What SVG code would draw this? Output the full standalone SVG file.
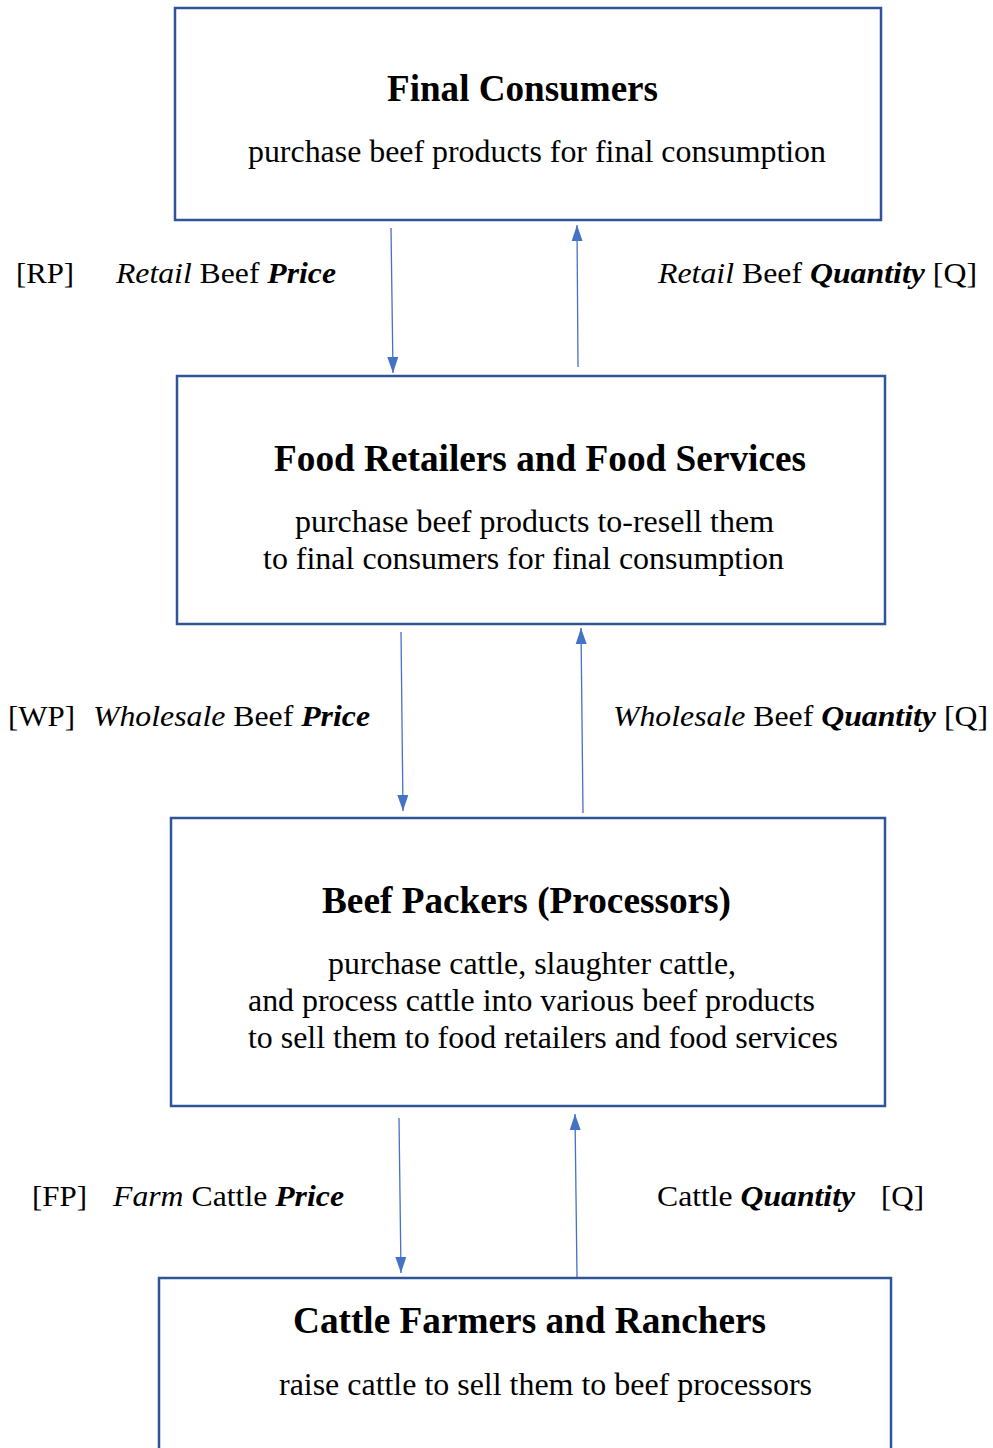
<svg xmlns="http://www.w3.org/2000/svg" width="993" height="1448" viewBox="0 0 993 1448">
<style>
.box{fill:#fff;stroke:#2F5597;stroke-width:2.5}
.t{font-family:'Liberation Serif','Times New Roman',serif;fill:#000}
.title{font-size:37px;font-weight:bold}
.sub{font-size:31px}
.lab{font-size:29px}
.i{font-style:italic}
.bi{font-style:italic;font-weight:bold}
.arr{stroke:#4472C4;stroke-width:1.3;fill:none;marker-end:url(#ah)}
</style>
<defs>
<marker id="ah" viewBox="0 0 16 12" refX="16" refY="6" markerWidth="16" markerHeight="12" markerUnits="userSpaceOnUse" orient="auto">
<path d="M0,0.5 L16,6 L0,11.5 Z" fill="#4472C4"/>
</marker>
</defs>
<rect width="993" height="1448" fill="#fff"/>
<g id="connectors">
<line class="arr" x1="391" y1="228" x2="393" y2="373"/>
<line class="arr" x1="578" y1="367" x2="577" y2="225"/>
<line class="arr" x1="401" y1="632" x2="403" y2="811"/>
<line class="arr" x1="583" y1="813" x2="581" y2="628"/>
<line class="arr" x1="399" y1="1118" x2="401" y2="1273"/>
<line class="arr" x1="577" y1="1277" x2="575" y2="1114"/>
</g>
<g id="labels">
<text class="t lab" x="16" y="283" textLength="58" lengthAdjust="spacingAndGlyphs">[RP]</text>
<text class="t lab" x="116" y="283" textLength="220" lengthAdjust="spacingAndGlyphs"><tspan class="i">Retail</tspan> Beef <tspan class="bi">Price</tspan></text>
<text class="t lab" x="658" y="283" textLength="319" lengthAdjust="spacingAndGlyphs"><tspan class="i">Retail</tspan> Beef <tspan class="bi">Quantity</tspan> [Q]</text>
<text class="t lab" x="8" y="726" textLength="67" lengthAdjust="spacingAndGlyphs">[WP]</text>
<text class="t lab" x="93" y="726" textLength="277" lengthAdjust="spacingAndGlyphs"><tspan class="i">Wholesale</tspan> Beef <tspan class="bi">Price</tspan></text>
<text class="t lab" x="613" y="726" textLength="375" lengthAdjust="spacingAndGlyphs"><tspan class="i">Wholesale</tspan> Beef <tspan class="bi">Quantity</tspan> [Q]</text>
<text class="t lab" x="32" y="1206" textLength="55" lengthAdjust="spacingAndGlyphs">[FP]</text>
<text class="t lab" x="113" y="1206" textLength="231" lengthAdjust="spacingAndGlyphs"><tspan class="i">Farm</tspan> Cattle <tspan class="bi">Price</tspan></text>
<text class="t lab" x="657" y="1206" textLength="198" lengthAdjust="spacingAndGlyphs">Cattle <tspan class="bi">Quantity</tspan></text>
<text class="t lab" x="881" y="1206" textLength="43" lengthAdjust="spacingAndGlyphs">[Q]</text>
</g>
<g id="final-consumers">
<rect class="box" x="175" y="8" width="706" height="212"/>
<text class="t title" x="387" y="101" textLength="271" lengthAdjust="spacingAndGlyphs">Final Consumers</text>
<text class="t sub" x="248" y="162" textLength="578" lengthAdjust="spacingAndGlyphs">purchase beef products for final consumption</text>
</g>
<g id="food-retailers">
<rect class="box" x="177" y="376" width="708" height="248"/>
<text class="t title" x="274" y="471" textLength="532" lengthAdjust="spacingAndGlyphs">Food Retailers and Food Services</text>
<text class="t sub" x="295" y="532" textLength="479" lengthAdjust="spacingAndGlyphs">purchase beef products to-resell them</text>
<text class="t sub" x="263" y="569" textLength="521" lengthAdjust="spacingAndGlyphs">to final consumers for final consumption</text>
</g>
<g id="beef-packers">
<rect class="box" x="171" y="818" width="714" height="288"/>
<text class="t title" x="322" y="913" textLength="409" lengthAdjust="spacingAndGlyphs">Beef Packers (Processors)</text>
<text class="t sub" x="328" y="974" textLength="408" lengthAdjust="spacingAndGlyphs">purchase cattle, slaughter cattle,</text>
<text class="t sub" x="248" y="1011" textLength="567" lengthAdjust="spacingAndGlyphs">and process cattle into various beef products</text>
<text class="t sub" x="248" y="1048" textLength="590" lengthAdjust="spacingAndGlyphs">to sell them to food retailers and food services</text>
</g>
<g id="cattle-farmers">
<rect class="box" x="159" y="1278" width="732" height="200"/>
<text class="t title" x="293" y="1333" textLength="473" lengthAdjust="spacingAndGlyphs">Cattle Farmers and Ranchers</text>
<text class="t sub" x="279" y="1395" textLength="533" lengthAdjust="spacingAndGlyphs">raise cattle to sell them to beef processors</text>
</g>
</svg>
